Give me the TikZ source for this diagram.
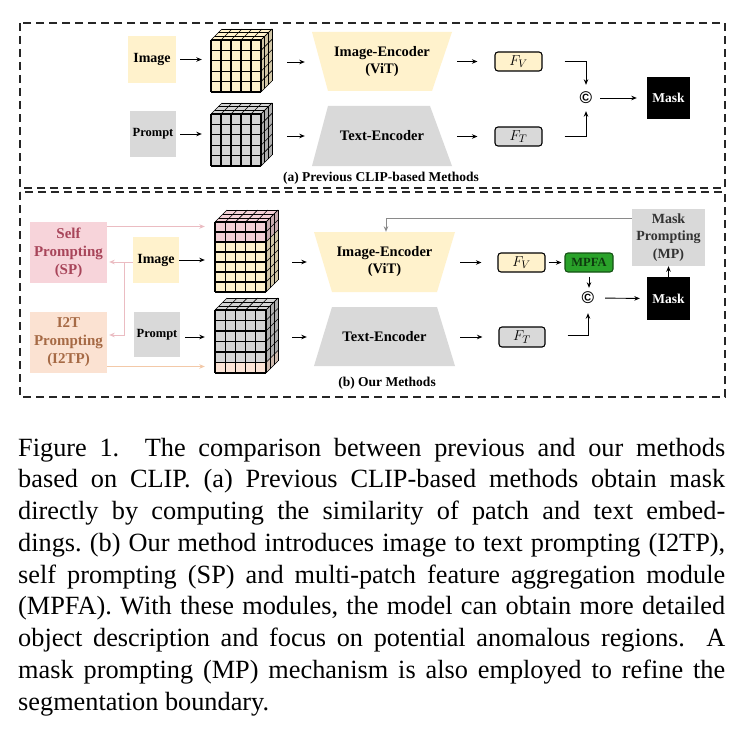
\documentclass[tikz,border=0pt]{standalone}
\usepackage{fontspec}
\setmainfont{Liberation Serif}
\newfontfamily\sansf{Liberation Sans}
\usetikzlibrary{arrows.meta,calc}
\frenchspacing
\definecolor{cbeige}{HTML}{FFF2CC}
\definecolor{cgray}{HTML}{D9D9D9}
\definecolor{ccell}{HTML}{D4D4D4}
\definecolor{cpinkbox}{HTML}{F7D4DA}
\definecolor{cpinkcell}{HTML}{F3D0D6}
\definecolor{cpeachbox}{HTML}{FBE2D2}
\definecolor{cpeachcell}{HTML}{FCE4D6}
\definecolor{csptext}{HTML}{A8455A}
\definecolor{citext}{HTML}{A66A45}
\definecolor{cpinkline}{HTML}{EBBCC2}
\definecolor{cpeachline}{HTML}{F3C9A8}
\definecolor{cgreen}{HTML}{2AA22A}
\definecolor{cgreendark}{HTML}{145214}
\definecolor{cmptext}{HTML}{333333}
\definecolor{cfeed}{HTML}{8A8A8A}
\newcommand\mycube[8]{%
 \pgfmathsetmacro\cW{5*#3}%
 \pgfmathsetmacro\cH{#6*#4}%
 \fill[#7] (#1,#2) -- ++(#5,-#5) -- ++(\cW,0) -- ++(-#5,#5) -- cycle;
 \foreach \cc [count=\rr from 0] in {#8} {
   \fill[\cc] (#1,{#2+\rr*#4}) rectangle ++(\cW,#4);
   \fill[\cc!82!black] ({#1+\cW},{#2+\rr*#4}) -- ++(#5,-#5) -- ++(0,#4) -- ++(-#5,#5) -- cycle;
 }
 \foreach \i in {0,...,5} \draw[cubethin] ({#1+\i*#3},#2) -- ++(#5,-#5);
 \foreach \k in {1,2,3} \draw[cubethin] ({#1+\k*#5/3},{#2-\k*#5/3}) -- ++(\cW,0);
 \foreach \j in {0,...,#6} \draw[cubethin] ({#1+\cW},{#2+\j*#4}) -- ++(#5,-#5);
 \foreach \k in {1,2,3} \draw[cubethin] ({#1+\cW+\k*#5/3},{#2-\k*#5/3}) -- ++(0,\cH);
 \foreach \i in {0,...,5} \draw[cubeline] ({#1+\i*#3},#2) -- ++(0,\cH);
 \foreach \j in {0,...,#6} \draw[cubeline] (#1,{#2+\j*#4}) -- ++(\cW,0);
}
\tikzset{
 arr/.style={-{Stealth[length=5.5pt,width=4.5pt]}, line width=0.9pt, draw=black},
 pinkarr/.style={-{Stealth[length=5.5pt,width=4.5pt]}, line width=0.9pt, draw=cpinkline},
 peacharr/.style={-{Stealth[length=5.5pt,width=4.5pt]}, line width=0.9pt, draw=cpeachline},
 feedarr/.style={-{Stealth[length=5.5pt,width=4.5pt]}, line width=1pt, draw=cfeed},
 cubeline/.style={line width=1.1pt, black},
 cubethin/.style={line width=0.6pt, black},
 srcbox/.style={rectangle, inner sep=0, align=center, minimum width=47pt, minimum height=46pt},
 fbox/.style={rectangle, rounded corners=3pt, draw=black, line width=1.1pt, minimum width=47pt, minimum height=19pt, inner sep=0, font=\fontsize{15}{17}\selectfont},
 maskbox/.style={fill=black, text=white, inner sep=0, minimum width=43pt, minimum height=42pt, font=\bfseries\fontsize{13.5}{16}\selectfont},
 enc/.style={inner sep=0, align=center, minimum width=140pt, minimum height=59pt, font=\bfseries\fontsize{14.5}{17}\selectfont},
 cubebox/.style={inner sep=0},
 cpy/.style={inner sep=0, minimum size=14pt, font=\sansf\bfseries\fontsize{17}{17}\selectfont},
 frame/.style={draw=black!85, line width=1.2pt, dash pattern=on 8pt off 5pt},
 lbl/.style={inner sep=0, font=\bfseries\fontsize{13.5}{16}\selectfont},
 promptbox/.style={rectangle, inner sep=0, align=center, minimum width=77pt, minimum height=61pt, font=\bfseries\fontsize{15}{18}\selectfont},
 capline/.style={inner sep=0, anchor=base west, font=\fontsize{26.3}{31.75}\selectfont},
}
\begin{document}
\begin{tikzpicture}[x=1pt,y=-1pt]
\useasboundingbox[fill=white] (0,0) rectangle (743,741);
% frames
\draw[frame] (20,23) rectangle (725,188);
\draw[frame] (20,192) rectangle (725,397);

% ================= (a) =================
\node[srcbox, fill=cbeige, minimum width=48pt, minimum height=47pt, font=\bfseries\fontsize{14}{16}\selectfont] (imgA) at (152,59.5) {Image};
\node[srcbox, fill=cgray, minimum width=46pt, minimum height=46pt, font=\bfseries\fontsize{12.5}{14}\selectfont] (prmA) at (153,134) {Prompt};
\mycube{211}{40}{10}{10.4}{11}{5}{cbeige}{cbeige,cbeige,cbeige,cbeige,cbeige}
\mycube{211}{114}{10}{10.4}{11}{5}{ccell}{ccell,ccell,ccell,ccell,ccell}
\node[cubebox, minimum width=50pt, minimum height=52pt] (cA1) at (236,66) {};
\node[cubebox, minimum width=50pt, minimum height=52pt] (cA2) at (236,140) {};
\fill[cbeige] (312,32) -- (452,32) -- (432,91) -- (328,91) -- cycle;
\fill[cgray] (328,106) -- (430,106) -- (452,166) -- (312,166) -- cycle;
\node[enc] (encA) at (382,62) {Image-Encoder\\(ViT)};
\node[enc, minimum height=60pt] (encTA) at (382,136) {Text-Encoder};
\node[fbox, fill=cbeige] (fvA) at (518.5,61.5) {$F_V$};
\node[fbox, fill=cgray] (ftA) at (518.5,136.5) {$F_T$};
\node[cpy] (cpA) at (586,98) {©};
\node[maskbox] (maskA) at (668.5,98) {Mask};
\node[lbl] (labA) at (381,178) {(a) Previous CLIP-based Methods};

\draw[arr, shorten <=4pt, shorten >=9pt] (imgA.east) -- (imgA.east -| cA1.west);
\draw[arr, shorten <=4pt, shorten >=9pt] (prmA.east) -- (prmA.east -| cA2.west);
\draw[arr, shorten <=26pt, shorten >=7pt] (cA1.east |- encA) -- (encA.west);
\draw[arr, shorten <=26pt, shorten >=7pt] (cA2.east |- encTA) -- (encTA.west);
\draw[arr, shorten <=5pt, shorten >=17pt] (encA.east |- fvA) -- (fvA.west);
\draw[arr, shorten <=5pt, shorten >=17pt] (encTA.east |- ftA) -- (ftA.west);
\draw[arr, shorten <=22pt, shorten >=6pt] (fvA.east) -| (cpA.north);
\draw[arr, shorten <=22pt, shorten >=6pt] (ftA.east) -| (cpA.south);
\draw[arr, shorten <=7pt, shorten >=10pt] (cpA.east) -- (maskA.west);

% ================= (b) =================
\node[promptbox, fill=cpinkbox, text=csptext] (SP) at (68.5,252.5) {Self\\Prompting\\(SP)};
\node[promptbox, fill=cpeachbox, text=citext] (ITP) at (68.5,342.5) {I2T\\Prompting\\(I2TP)};
\node[srcbox, fill=cbeige, minimum width=46pt, minimum height=46pt, font=\bfseries\fontsize{14}{16}\selectfont] (imgB) at (156,260) {Image};
\node[srcbox, fill=cgray, minimum width=46pt, minimum height=45pt, font=\bfseries\fontsize{12.5}{14}\selectfont] (prmB) at (157,334.5) {Prompt};
\mycube{215}{222}{10.2}{10}{12}{7}{cpinkcell}{cpinkcell,cpinkcell,cbeige,cbeige,cbeige,cbeige,cbeige}
\mycube{215}{310}{10.2}{10.5}{12}{6}{ccell}{ccell,ccell,ccell,ccell,ccell,cpeachcell}
\node[cubebox, minimum width=51pt, minimum height=70pt] (cB1) at (240.5,257) {};
\node[cubebox, minimum width=51pt, minimum height=63pt] (cB2) at (240.5,341.5) {};
\fill[cbeige] (314,232) -- (455,232) -- (437,292) -- (332,292) -- cycle;
\fill[cgray] (332,307) -- (437,307) -- (455,366) -- (314,366) -- cycle;
\node[enc, minimum width=141pt, minimum height=60pt] (encB) at (384.5,262) {Image-Encoder\\(ViT)};
\node[enc, minimum width=141pt, minimum height=59pt] (encTB) at (384.5,337) {Text-Encoder};
\node[fbox, fill=cbeige] (fvB) at (521.5,262.5) {$F_V$};
\node[fbox, fill=cgreen, draw=cgreendark, minimum width=48pt, text=cgreendark!70!black, font=\bfseries\fontsize{12.5}{15}\selectfont] (mpfa) at (589,262.5) {MPFA};
\node[fbox, fill=cgray, minimum width=46pt, minimum height=20pt] (ftB) at (522,337) {$F_T$};
\node[cpy] (cpB) at (588,298) {©};
\node[maskbox, minimum height=43pt] (maskB) at (668.5,298.5) {Mask};
\node[promptbox, fill=cgray, text=cmptext, minimum width=73pt, minimum height=57pt, font=\bfseries\fontsize{14}{17.5}\selectfont] (MP) at (668.5,237.5) {Mask\\Prompting\\(MP)};
\node[lbl] (labB) at (387,383) {(b) Our Methods};

\coordinate (pSP) at (0,226.5);
\coordinate (pIT) at (0,366.5);
\coordinate (jn) at (124,262);
\coordinate (fbk) at (386,218);
\draw[pinkarr, shorten >=10pt] (SP.east |- pSP) -- (cB1.west |- pSP);
\draw[peacharr, shorten >=10pt] (ITP.east |- pIT) -- (cB2.west |- pIT);
\draw[pinkarr, shorten >=2pt] (imgB.west |- jn) -- (SP.east |- jn);
\draw[pinkarr, shorten >=2pt] (jn) |- ([yshift=7.5pt]ITP.east);
\draw[arr, shorten >=10pt] (imgB.east) -- (imgB.east -| cB1.west);
\draw[arr, shorten <=5pt, shorten >=10pt] (prmB.east |- 0,337) -- (cB2.west |- 0,337);
\draw[arr, shorten <=26pt, shorten >=7pt] (cB1.east |- encB) -- (encB.west);
\draw[arr, shorten <=26pt, shorten >=7pt] (cB2.east |- encTB) -- (encTB.west);
\draw[arr, shorten <=5pt, shorten >=16pt] (encB.east |- fvB) -- (fvB.west);
\draw[arr, shorten <=5pt, shorten >=16pt] (encTB.east |- ftB) -- (ftB.west);
\draw[arr, shorten <=3pt, shorten >=3pt] (fvB.east) -- (mpfa.west);
\draw[arr, shorten <=4pt, shorten >=3pt] (mpfa.south) -- (mpfa.south |- cpB.north);
\draw[arr, shorten <=22pt, shorten >=8pt] ([yshift=2pt]ftB.east) -| (cpB.south);
\draw[arr, shorten <=10pt, shorten >=7pt] (cpB.east) -- (maskB.west);
\draw[arr] (maskB.north) -- (MP.south);
\draw[feedarr] (MP.west |- fbk) -- (fbk) -- (fbk |- encB.north);

% ================= caption =================
\node[capline] (cap1) at (18,456) {\makebox[707pt][s]{Figure 1.\ \ The comparison between previous and our methods}};
\node[capline] (cap2) at (18,487.75) {\makebox[707pt][s]{based on CLIP. (a) Previous CLIP-based methods obtain mask}};
\node[capline] (cap3) at (18,519.5) {\makebox[707pt][s]{directly by computing the similarity of patch and text embed-}};
\node[capline] (cap4) at (18,551.25) {\makebox[707pt][s]{dings. (b) Our method introduces image to text prompting (I2TP),}};
\node[capline] (cap5) at (18,583) {\makebox[707pt][s]{self prompting (SP) and multi-patch feature aggregation module}};
\node[capline] (cap6) at (18,614.75) {\makebox[707pt][s]{(MPFA). With these modules, the model can obtain more detailed}};
\node[capline] (cap7) at (18,646.5) {\makebox[707pt][s]{object description and focus on potential anomalous regions.\ \ A}};
\node[capline] (cap8) at (18,678.25) {\makebox[707pt][s]{mask prompting (MP) mechanism is also employed to refine the}};
\node[capline] (cap9) at (18,710) {segmentation boundary.};
\end{tikzpicture}
\end{document}
